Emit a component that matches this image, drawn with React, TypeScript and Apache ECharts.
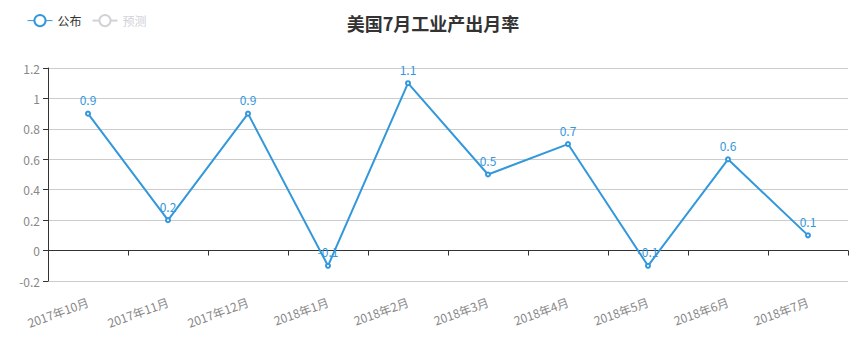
import React, { useEffect, useRef } from "react";
import * as echarts from "echarts";

const categories = ["2017年10月", "2017年11月", "2017年12月", "2018年1月", "2018年2月", "2018年3月", "2018年4月", "2018年5月", "2018年6月", "2018年7月"];
const published = [0.9, 0.2, 0.9, -0.1, 1.1, 0.5, 0.7, -0.1, 0.6, 0.1];
const forecast: (number | null)[] = [];

export default function App() {
  const ref = useRef<HTMLDivElement>(null);
  useEffect(() => {
    const chart = echarts.init(ref.current!, null, { renderer: "svg" });
    const font = "'Microsoft YaHei', 'Noto Sans CJK SC', sans-serif";
    chart.setOption({
      animation: false,
      textStyle: { fontFamily: font },
      title: {
        text: "美国7月工业产出月率",
        left: "center",
        top: 1,
        textStyle: { fontSize: 18, fontWeight: "bold", color: "#333", fontFamily: font },
      },
      legend: {
        left: 14,
        top: 1,
        itemWidth: 25,
        itemHeight: 14,
        itemGap: 10,
        lineStyle: { width: 1 },
        itemStyle: { borderWidth: 1 },
        textStyle: { color: "#333", fontSize: 12, fontFamily: font },
        selected: { 公布: true, 预测: false },
        data: ["公布", "预测"],
      },
      grid: { left: 40, right: 10, top: 60, bottom: 64, containLabel: false },
      xAxis: {
        type: "category",
        data: categories,
        boundaryGap: true,
        axisLine: { onZero: true, lineStyle: { color: "#333" } },
        axisTick: { show: true, alignWithLabel: false, lineStyle: { color: "#333" } },
        axisLabel: { rotate: 20, color: "#888", fontSize: 12, margin: 20, fontFamily: font, interval: 0 },
      },
      yAxis: {
        type: "value",
        min: -0.2,
        max: 1.2,
        interval: 0.2,
        axisLine: { show: true, lineStyle: { color: "#333" } },
        axisTick: { show: true, lineStyle: { color: "#333" } },
        axisLabel: {
          color: "#888",
          fontSize: 12,
          fontFamily: font,
          formatter: (v: number) => String(Math.round(v * 10) / 10),
        },
        splitLine: { lineStyle: { color: "#ccc" } },
      },
      series: [
        {
          name: "公布",
          type: "line",
          data: published,
          symbol: "emptyCircle",
          symbolSize: 4,
          itemStyle: { color: "#3398DB", borderWidth: 1 },
          lineStyle: { color: "#3398DB", width: 2 },
          label: { show: true, position: "top", color: "#3398DB", fontSize: 12, fontFamily: font },
        },
        {
          name: "预测",
          type: "line",
          data: forecast,
          symbol: "emptyCircle",
          symbolSize: 4,
          itemStyle: { color: "#f39c12", borderWidth: 1 },
          lineStyle: { color: "#f39c12", width: 2 },
        },
      ],
    });
    return () => chart.dispose();
  }, []);
  return <div ref={ref} style={{ width: 850, height: 337 }} />;
}
